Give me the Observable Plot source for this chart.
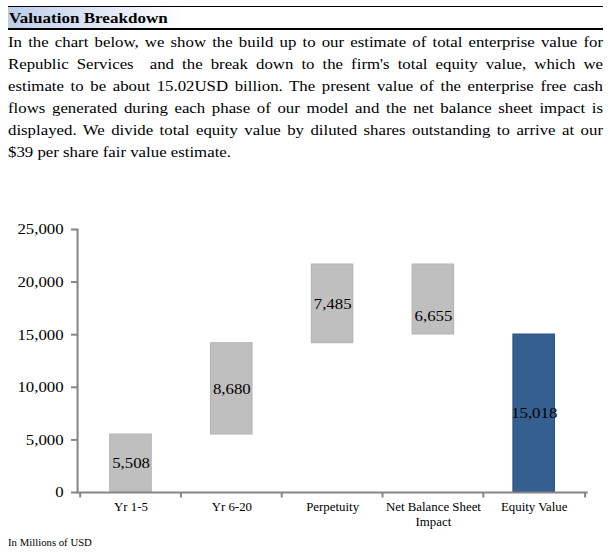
<!DOCTYPE html>
<html>
<head>
<meta charset="utf-8">
<script src="https://cdn.jsdelivr.net/npm/d3@7"></script>
<script src="https://cdn.jsdelivr.net/npm/@observablehq/plot@0.6"></script>
<style>
  html, body { margin: 0; padding: 0; background: #fff; }
  body { width: 612px; height: 556px; position: relative; overflow: hidden; font-family: "Liberation Serif", "Times New Roman", serif; color: #000; }
  #head { position: absolute; left: 8px; top: 6px; width: 595px; height: 21px; border-top: 1px solid #000; border-bottom: 2px solid #000;
          background: linear-gradient(to right, #bccde8 0px, #ffffff 175px); }
  #title { position: absolute; left: 1px; top: 1px; font-weight: bold; font-size: 15.5px; line-height: 20px; transform: scaleX(1.1); transform-origin: 0 0; white-space: nowrap; }
  #para { position: absolute; left: 8px; top: 31px; width: 531.25px; font-size: 15px; line-height: 22px; transform: scaleX(1.12); transform-origin: 0 0; }
  #para .l { display: block; text-align: justify; text-align-last: justify; white-space: normal; }
  #para .l.last { text-align-last: left; }
  #chart { position: absolute; left: 0; top: 200px; }
  #chart svg { transform: scaleX(1.12); transform-origin: 0 0; display: block; }
  #caption { position: absolute; left: 8px; top: 537px; font-size: 9.6px; line-height: 12px; transform: scaleX(1.12); transform-origin: 0 0; white-space: nowrap; }
</style>
</head>
<body>
<div id="head"><div id="title">Valuation Breakdown</div></div>
<div id="para"></div>
<div id="chart"></div>
<div id="caption">In Millions of USD</div>
<script>
const paragraphLines = [
  "In the chart below, we show the build up to our estimate of total enterprise value for",
  "Republic Services\u00a0 and the break down to the firm's total equity value, which we",
  "estimate to be about 15.02USD billion. The present value of the enterprise free cash",
  "flows generated during each phase of our model and the net balance sheet impact is",
  "displayed. We divide total equity value by diluted shares outstanding to arrive at our",
  "$39 per share fair value estimate."
];
const categories = ["Yr 1-5", "Yr 6-20", "Perpetuity", "Net Balance Sheet\nImpact", "Equity Value"];
const values = [5508, 8680, 7485, 6655, 15018];
const kinds = ["increase", "increase", "increase", "decrease", "total"];
const yTicks = [0, 5000, 10000, 15000, 20000, 25000];

const para = document.getElementById("para");
paragraphLines.forEach((t, i) => {
  const s = document.createElement("span");
  s.className = "l" + (i === paragraphLines.length - 1 ? " last" : "");
  s.textContent = t;
  para.appendChild(s);
});

// build waterfall table
let running = 0;
const rows = categories.map((c, i) => {
  let y1, y2;
  if (kinds[i] === "increase") { y1 = running; y2 = running + values[i]; running = y2; }
  else if (kinds[i] === "decrease") { y1 = running; y2 = running - values[i]; running = y2; }
  else { y1 = 0; y2 = values[i]; }
  return { category: c, value: values[i], kind: kinds[i], y1, y2, mid: (y1 + y2) / 2 };
});

const fmt = d3.format(",");
const S = 1.12;                 // horizontal stretch of the original rendering
const W = 612 / S, H = 335, mL = 77 / S, mR = 26 / S;
const step = (W - mL - mR) / categories.length;

const plot = Plot.plot({
  width: W,
  height: H,
  marginLeft: mL,
  marginRight: mR,
  marginTop: 29,
  marginBottom: 43,
  style: { fontFamily: "'Liberation Serif', 'Times New Roman', serif", background: "transparent", color: "#000" },
  x: { domain: categories, paddingInner: 0.59, paddingOuter: 0.295 },
  y: { domain: [0, 25000] },
  marks: [
    Plot.barY(rows, {
      x: "category", y1: "y1", y2: "y2",
      fill: d => d.kind === "total" ? "#365f91" : "#bfbfbf",
      stroke: d => d.kind === "total" ? "#2c5180" : "#b4b4b4",
      strokeWidth: 1
    }),
    Plot.frame({ anchor: "left", stroke: "#868686", strokeWidth: 1.8 }),
    Plot.frame({ anchor: "bottom", stroke: "#868686", strokeWidth: 2 }),
    Plot.axisY({ ticks: yTicks, tickFormat: fmt, tickSize: 6 / S, tickPadding: 8 / S, fontSize: 15, stroke: "#868686", strokeWidth: 2, label: null, color: "#000" }),
    Plot.axisX({ tickSize: 0, tickPadding: 8, fontSize: 11.5, label: null, lineHeight: 1.3 }),
    // category boundary ticks below the axis
    Plot.ruleX(rows, { x: "category", y1: 0, y2: -520, dx: -step / 2, stroke: "#868686", strokeWidth: 1.8 }),
    Plot.ruleX(rows.slice(-1), { x: "category", y1: 0, y2: -520, dx: step / 2, stroke: "#868686", strokeWidth: 1.8 }),
    Plot.text(rows.filter(d => d.kind !== "decrease"), { x: "category", y: "mid", text: d => fmt(d.value), fontSize: 15, fill: "#000" }),
    Plot.text(rows.filter(d => d.kind === "decrease"), { x: "category", y: "mid", text: d => fmt(d.value), fontSize: 15, fill: "#000", dy: 17 })
  ]
});
document.getElementById("chart").appendChild(plot);
</script>
</body>
</html>
